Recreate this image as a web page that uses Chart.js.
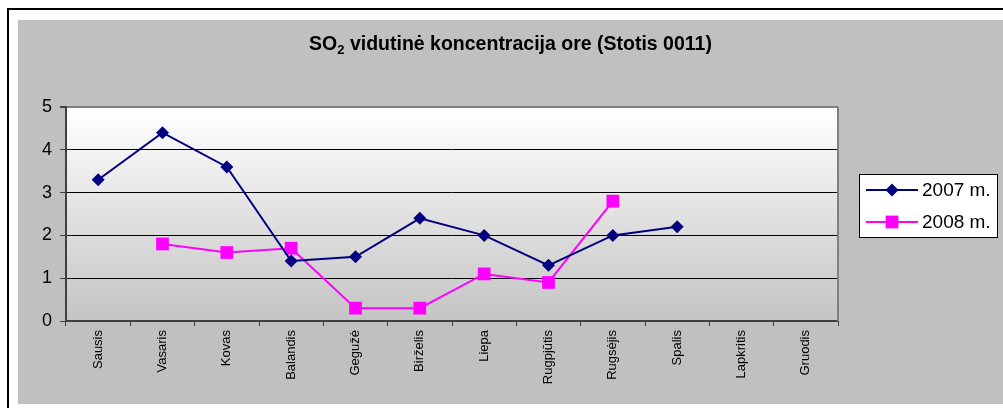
<!DOCTYPE html>
<html>
<head>
<meta charset="utf-8">
<script src="https://cdn.jsdelivr.net/npm/chart.js@4"></script>
<style>
  body { margin: 0; background: #fff; width: 1003px; height: 408px; overflow: hidden; position: relative; }
  .frame { position: absolute; left: 7px; top: 8px; width: 1020px; height: 420px; border: 2px solid #000; }
  #so2Chart { position: absolute; left: 18px; top: 20px; background: #c0c0c0; }
</style>
</head>
<body>
<div class="frame"></div>
<canvas id="so2Chart" width="985" height="384"></canvas>
<script>
// SO2 monthly averages, station 0011
const months = ['Sausis', 'Vasaris', 'Kovas', 'Balandis', 'Gegužė', 'Birželis', 'Liepa', 'Rugpjūtis', 'Rugsėjis', 'Spalis', 'Lapkritis', 'Gruodis'];
const values2007 = [3.3, 4.4, 3.6, 1.4, 1.5, 2.4, 2.0, 1.3, 2.0, 2.2, null, null];
const values2008 = [null, 1.8, 1.6, 1.7, 0.3, 0.3, 1.1, 0.9, 2.8, null, null, null];
const seriesLabels = ['2007 m.', '2008 m.'];
const yTicks = [0, 1, 2, 3, 4, 5];

const FONT = 'Arial, "Liberation Sans", sans-serif';

// plot background gradient + right border
const plotArea = {
  id: 'plotArea',
  beforeDraw(chart) {
    const { ctx, chartArea: a } = chart;
    const g = ctx.createLinearGradient(0, a.top, 0, a.bottom);
    g.addColorStop(0, '#ffffff');
    g.addColorStop(1, '#c4c4c4');
    ctx.save();
    ctx.fillStyle = g;
    ctx.fillRect(a.left, a.top, a.right - a.left, a.bottom - a.top);
    ctx.restore();
  },
  afterDraw(chart) {
    const { ctx, chartArea: a } = chart;
    ctx.save();
    ctx.strokeStyle = '#808080';
    ctx.lineWidth = 2;
    ctx.beginPath();
    ctx.moveTo(a.right, a.top);
    ctx.lineTo(a.right, a.bottom);
    ctx.stroke();
    ctx.restore();
  }
};

// title with subscript 2
const titleSub = {
  id: 'titleSub',
  afterDraw(chart) {
    const { ctx } = chart;
    const parts = [
      { t: 'SO', f: 'bold 19.5px ' + FONT, dy: 0 },
      { t: '2', f: 'bold 13px ' + FONT, dy: 5 },
      { t: ' vidutinė koncentracija ore (Stotis 0011)', f: 'bold 19.5px ' + FONT, dy: 0 }
    ];
    ctx.save();
    ctx.textBaseline = 'middle';
    ctx.fillStyle = '#000';
    let total = 0;
    parts.forEach(p => { ctx.font = p.f; p.w = ctx.measureText(p.t).width; total += p.w; });
    let x = chart.width / 2 - total / 2;
    parts.forEach(p => {
      ctx.font = p.f;
      ctx.fillText(p.t, x, 25 + p.dy);
      x += p.w;
    });
    ctx.restore();
  }
};

// boxed legend with line + marker
const boxLegend = {
  id: 'boxLegend',
  afterDraw(chart) {
    const { ctx } = chart;
    const bx = 841, by = 154, bw = 138, bh = 63;
    ctx.save();
    ctx.fillStyle = '#fff';
    ctx.fillRect(bx, by, bw, bh);
    ctx.strokeStyle = '#000';
    ctx.lineWidth = 1;
    ctx.strokeRect(bx + 0.5, by + 0.5, bw, bh);
    chart.data.datasets.forEach((ds, i) => {
      const y = by + 16 + i * 32;
      ctx.strokeStyle = ds.borderColor;
      ctx.lineWidth = 2;
      ctx.beginPath();
      ctx.moveTo(bx + 7, y);
      ctx.lineTo(bx + 59, y);
      ctx.stroke();
      ctx.fillStyle = ds.pointBackgroundColor;
      Chart.helpers.drawPoint(ctx, { pointStyle: ds.pointStyle, radius: ds.pointRadius, borderWidth: 0 }, bx + 33, y);
      ctx.fillStyle = '#000';
      ctx.font = '19px ' + FONT;
      ctx.textBaseline = 'middle';
      ctx.fillText(ds.label, bx + 63, y + 1);
    });
    ctx.restore();
  }
};

new Chart(document.getElementById('so2Chart'), {
  type: 'line',
  data: {
    labels: months,
    datasets: [
      {
        label: seriesLabels[0],
        data: values2007,
        borderColor: '#000080',
        backgroundColor: '#000080',
        pointBackgroundColor: '#000080',
        pointBorderWidth: 0,
        pointStyle: 'rectRot',
        pointRadius: 6.5,
        borderWidth: 2,
        tension: 0,
      },
      {
        label: seriesLabels[1],
        data: values2008,
        borderColor: '#ff00ff',
        backgroundColor: '#ff00ff',
        pointBackgroundColor: '#ff00ff',
        pointBorderWidth: 0,
        pointStyle: 'rect',
        pointRadius: 9,
        borderWidth: 2,
        tension: 0,
      },
    ],
  },
  options: {
    responsive: false,
    animation: false,
    devicePixelRatio: 1,
    layout: { padding: { top: 87, right: 165, left: 0, bottom: 0 } },
    plugins: { legend: { display: false }, title: { display: false }, tooltip: { enabled: false } },
    scales: {
      x: {
        offset: true,
        grid: { offset: true, drawOnChartArea: false, tickLength: 5, tickColor: '#404040', tickWidth: 1 },
        border: { color: '#404040', width: 2 },
        ticks: { color: '#000', font: { family: FONT, size: 13 }, minRotation: 90, maxRotation: 90, padding: 4, autoSkip: false },
        afterFit: (s) => { s.height = 83; },
      },
      y: {
        min: 0,
        max: 5,
        afterBuildTicks: (s) => { s.ticks = yTicks.map(v => ({ value: v })); },
        grid: {
          color: (c) => c.tick.value === 5 ? '#808080' : '#000',
          lineWidth: (c) => c.tick.value === 5 ? 2 : 1,
          tickLength: 6,
          tickColor: '#404040',
        },
        border: { color: '#404040', width: 2 },
        ticks: { color: '#000', font: { family: FONT, size: 18 }, padding: 8 },
        afterFit: (s) => { s.width = 48; },
      },
    },
  },
  plugins: [plotArea, titleSub, boxLegend],
});
</script>
</body>
</html>
